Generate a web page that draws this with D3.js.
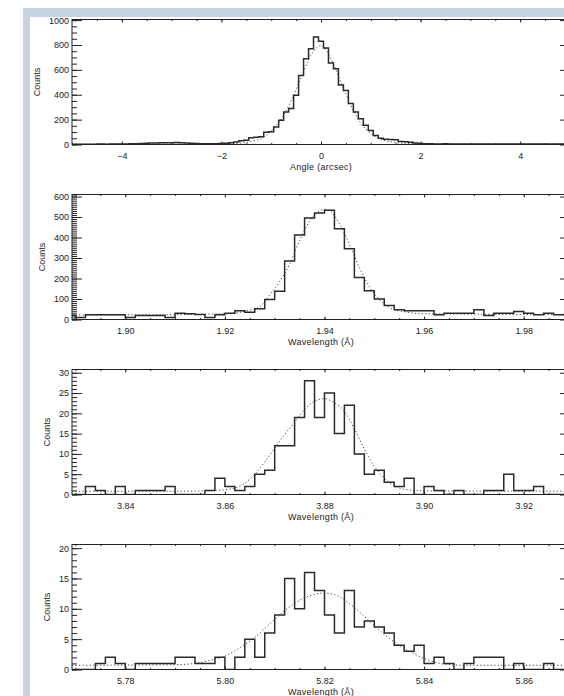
<!DOCTYPE html>
<html>
<head>
<meta charset="utf-8">
<script src="https://d3js.org/d3.v7.min.js"></script>
<style>
    body { margin: 0; background: #fff; }
    svg text { font-family: "Liberation Sans", Arial, sans-serif; fill: #222; }
</style>
</head>
<body>
<div id="chart"></div>
<script>
/* panel 1: angle histogram, bins of 0.1 arcsec centred on -5.0 ... 5.0 */
const angle_first = -5.0, angle_step = 0.1;
const angle_counts = [
    2, 2, 3, 3, 2, 3, 4, 3, 4, 5, 4, 5, 6, 6, 8,
    10, 12, 13, 15, 14, 15, 16, 14, 12, 10,
    8, 7, 6, 6, 7, 8, 10, 14,
    20, 30, 35, 55, 58, 62, 98, 102,
    140, 195, 262, 290, 395, 555, 690, 770, 865, 830,
    775, 655, 610, 478, 435, 330, 262, 207, 155, 113,
    73, 51, 42, 40, 38, 25, 22, 18, 12, 8,
    6, 6, 5, 5, 6, 5, 5, 4, 5, 5, 4, 4, 5, 5, 4, 4, 5, 4, 4, 5, 4, 4, 4, 5, 4, 4, 4, 5, 4, 4
];
const angle_fit_x = [-5, -3, -2, -1.6, -1.4, -1.2, -1.0, -0.8, -0.6, -0.4, -0.2, 0.0, 0.2, 0.4, 0.6, 0.8, 1.0, 1.2, 1.4, 1.6, 2.0, 3, 5];
const angle_fit_y = [3, 4, 6, 12, 25, 48, 110, 205, 350, 540, 720, 795, 690, 502, 315, 170, 90, 42, 22, 12, 6, 4, 3];
const angle_ticks = [-4, -2, 0, 2, 4];
const angle_count_ticks = [0, 200, 400, 600, 800, 1000];

/* panel 2: line near 1.94 A, bins of 0.002 A centred on 1.889 ... 1.989 */
const wl1_first = 1.889, wl1_step = 0.002;
const wl1_counts = [
    20, 10, 23, 23, 23, 23, 10, 20, 20, 20,
    10, 30, 28, 25, 10, 23, 31, 43, 35, 52,
    97, 138, 285, 412, 495, 520, 533, 443, 345, 205,
    140, 100, 68, 48, 43, 43, 43, 23, 31, 31,
    31, 48, 20, 31, 31, 39, 31, 23, 31, 23, 25
];
const wl1_fit_x = [1.8893, 1.910, 1.920, 1.924, 1.927, 1.929, 1.931, 1.933, 1.935, 1.937, 1.939, 1.940, 1.941, 1.943, 1.945, 1.947, 1.949, 1.951, 1.953, 1.956, 1.960, 1.9893];
const wl1_fit_y = [22, 24, 28, 40, 62, 120, 185, 270, 385, 480, 530, 538, 532, 468, 368, 255, 160, 98, 58, 38, 28, 24];
const wl1_ticks = [1.90, 1.92, 1.94, 1.96, 1.98];
const wl1_count_ticks = [0, 100, 200, 300, 400, 500, 600];

/* panel 3: line near 3.88 A */
const wl2_first = 3.829, wl2_step = 0.002;
const wl2_counts = [
    0, 0, 2, 1, 0, 2, 0, 1, 1, 1,
    2, 0, 0, 0, 1, 4, 2, 1, 2, 5,
    6, 12, 12, 19, 28, 19, 25, 15, 22, 10,
    5, 6, 3, 2, 4, 0, 2, 1, 0, 1,
    0, 0, 1, 1, 5, 1, 1, 2, 0, 0, 0
];
const wl2_fit_x = [3.8293, 3.850, 3.858, 3.862, 3.864, 3.866, 3.868, 3.870, 3.872, 3.874, 3.876, 3.878, 3.880, 3.882, 3.884, 3.886, 3.888, 3.890, 3.892, 3.894, 3.896, 3.900, 3.9293];
const wl2_fit_y = [0.8, 0.8, 1.0, 1.6, 2.8, 5.0, 8.0, 11.4, 14.8, 17.8, 21.0, 23.0, 23.6, 22.6, 20.5, 16.2, 11.2, 7.0, 4.0, 2.2, 1.3, 0.9, 0.8];
const wl2_ticks = [3.84, 3.86, 3.88, 3.90, 3.92];
const wl2_count_ticks = [0, 5, 10, 15, 20, 25, 30];

/* panel 4: line near 5.82 A */
const wl3_first = 5.769, wl3_step = 0.002;
const wl3_counts = [
    0, 0, 0, 1, 2, 1, 0, 1, 1, 1,
    1, 2, 2, 1, 1, 2, 0, 2, 5, 2,
    6, 9, 15, 10, 16, 13, 9, 6, 13, 7,
    8, 7, 6, 4, 3, 4, 1, 2, 1, 0,
    1, 2, 2, 2, 0, 1, 0, 0, 1, 0, 0
];
const wl3_fit_x = [5.7693, 5.790, 5.794, 5.797, 5.800, 5.803, 5.806, 5.809, 5.812, 5.815, 5.818, 5.820, 5.823, 5.826, 5.829, 5.832, 5.835, 5.838, 5.841, 5.844, 5.848, 5.8693];
const wl3_fit_y = [0.7, 0.8, 1.0, 1.5, 2.2, 3.6, 5.3, 7.5, 9.7, 11.4, 12.4, 12.6, 12.0, 10.2, 8.0, 5.8, 4.0, 2.6, 1.5, 0.9, 0.7, 0.7];
const wl3_ticks = [5.78, 5.80, 5.82, 5.84, 5.86];
const wl3_count_ticks = [0, 5, 10, 15, 20];

const panels = [
    { id: 1, first: angle_first, step: angle_step, counts: angle_counts, fitX: angle_fit_x, fitY: angle_fit_y,
      xdomain: [-5, 5], ydomain: [0, 1005], xTicks: angle_ticks, xMinor: 0.5, yTicks: angle_count_ticks, yMinor: 50,
      xFormat: d3.format("d"), xTitle: "Angle (arcsec)" },
    { id: 2, first: wl1_first, step: wl1_step, counts: wl1_counts, fitX: wl1_fit_x, fitY: wl1_fit_y,
      xdomain: [1.8893, 1.9893], ydomain: [0, 610], xTicks: wl1_ticks, xMinor: 0.005, yTicks: wl1_count_ticks, yMinor: 10,
      xFormat: d3.format(".2f"), xTitle: "Wavelength (Å)" },
    { id: 3, first: wl2_first, step: wl2_step, counts: wl2_counts, fitX: wl2_fit_x, fitY: wl2_fit_y,
      xdomain: [3.8293, 3.9293], ydomain: [0, 30.8], xTicks: wl2_ticks, xMinor: 0.005, yTicks: wl2_count_ticks, yMinor: 1,
      xFormat: d3.format(".2f"), xTitle: "Wavelength (Å)" },
    { id: 4, first: wl3_first, step: wl3_step, counts: wl3_counts, fitX: wl3_fit_x, fitY: wl3_fit_y,
      xdomain: [5.7693, 5.8693], ydomain: [0, 20.6], xTicks: wl3_ticks, xMinor: 0.005, yTicks: wl3_count_ticks, yMinor: 1,
      xFormat: d3.format(".2f"), xTitle: "Wavelength (Å)" }
];

/* layout */
const plot_left = 72, plot_right = 570;
const first_top = 19.5, panel_gap = 175, panel_h = 125;
const ink = "#222";

const svg = d3.select("#chart")
    .append("svg")
    .attr("width", 564)
    .attr("height", 696);

/* light blue window frame */
svg.append("rect").attr("x", 23).attr("y", 8).attr("width", 600).attr("height", 700).attr("fill", "#c6d3e3");
svg.append("rect").attr("x", 30).attr("y", 17).attr("width", 600).attr("height", 700).attr("fill", "#fff");

function minorValues(domain, step) {
    const lo = Math.ceil(domain[0] / step - 1e-6), hi = Math.floor(domain[1] / step + 1e-6);
    return d3.range(lo, hi + 1).map(k => +(k * step).toFixed(6));
}

function styleAxis(a) {
    a.select(".domain").remove();
    a.attr("color", ink).attr("font-size", 9).attr("font-family", "Liberation Sans, Arial, sans-serif");
}

function drawPanel(p, top) {
    const bottom = top + panel_h;
    const x = d3.scaleLinear().domain(p.xdomain).range([plot_left, plot_right]);
    const y = d3.scaleLinear().domain(p.ydomain).range([bottom, top]);
    const g = svg.append("g");

    const clipId = "clip" + p.id;
    g.append("clipPath").attr("id", clipId)
        .append("rect")
        .attr("x", plot_left).attr("y", top)
        .attr("width", plot_right - plot_left).attr("height", panel_h);

    /* fitted profile, dotted */
    const fit = p.fitX.map((v, i) => ({ x: v, v: p.fitY[i] }));
    g.append("path")
        .datum(fit)
        .attr("clip-path", `url(#${clipId})`)
        .attr("fill", "none")
        .attr("stroke", "#444")
        .attr("stroke-width", 1)
        .attr("stroke-dasharray", "1.2,2.3")
        .attr("d", d3.line().x(d => x(d.x)).y(d => y(d.v)).curve(d3.curveMonotoneX));

    /* histogram as steps, one point per bin centre */
    const bins = p.counts.map((c, i) => ({ x: p.first + i * p.step, v: c }));
    g.append("path")
        .datum(bins)
        .attr("clip-path", `url(#${clipId})`)
        .attr("fill", "none")
        .attr("stroke", "#2a2a2a")
        .attr("stroke-width", 1.5)
        .attr("d", d3.line().x(d => x(d.x)).y(d => y(d.v)).curve(d3.curveStep));

    /* box */
    g.append("rect")
        .attr("x", plot_left).attr("y", top)
        .attr("width", plot_right - plot_left).attr("height", panel_h)
        .attr("fill", "none").attr("stroke", ink).attr("stroke-width", 1);

    const xMinor = minorValues(p.xdomain, p.xMinor);
    const yMinor = minorValues(p.ydomain, p.yMinor);

    /* x axes: short ticks, on bottom and top */
    g.append("g").attr("transform", `translate(0,${bottom})`)
        .call(d3.axisBottom(x).tickValues(xMinor).tickFormat("").tickSize(-1.5).tickSizeOuter(0))
        .call(styleAxis);
    g.append("g").attr("transform", `translate(0,${bottom})`)
        .call(d3.axisBottom(x).tickValues(p.xTicks).tickFormat(p.xFormat).tickSize(-3).tickSizeOuter(0).tickPadding(8))
        .call(styleAxis);
    g.append("g").attr("transform", `translate(0,${top})`)
        .call(d3.axisTop(x).tickValues(xMinor).tickFormat("").tickSize(-1.5).tickSizeOuter(0))
        .call(styleAxis);
    g.append("g").attr("transform", `translate(0,${top})`)
        .call(d3.axisTop(x).tickValues(p.xTicks).tickFormat("").tickSize(-3).tickSizeOuter(0))
        .call(styleAxis);

    /* y axes: long ticks, left and right */
    g.append("g").attr("transform", `translate(${plot_left},0)`)
        .call(d3.axisLeft(y).tickValues(yMinor).tickFormat("").tickSize(-5).tickSizeOuter(0))
        .call(styleAxis);
    const yAxis = g.append("g").attr("transform", `translate(${plot_left},0)`)
        .call(d3.axisLeft(y).tickValues(p.yTicks).tickFormat(d3.format("d")).tickSize(-10).tickSizeOuter(0).tickPadding(3))
        .call(styleAxis);
    g.append("g").attr("transform", `translate(${plot_right},0)`)
        .call(d3.axisRight(y).tickValues(yMinor).tickFormat("").tickSize(-5).tickSizeOuter(0))
        .call(styleAxis);
    g.append("g").attr("transform", `translate(${plot_right},0)`)
        .call(d3.axisRight(y).tickValues(p.yTicks).tickFormat("").tickSize(-10).tickSizeOuter(0))
        .call(styleAxis);

    /* titles */
    let labelW = 0;
    yAxis.selectAll("text").each(function() { labelW = Math.max(labelW, this.getComputedTextLength()); });
    const cx = plot_left - 3 - labelW - 12;
    g.append("text")
        .attr("transform", `translate(${cx},${(top + bottom) / 2}) rotate(-90)`)
        .attr("text-anchor", "middle")
        .attr("dy", "0.35em")
        .attr("font-size", 9)
        .text("Counts");

    g.append("text")
        .attr("x", (plot_left + plot_right) / 2)
        .attr("y", bottom + 25)
        .attr("text-anchor", "middle")
        .attr("font-size", 9)
        .attr("letter-spacing", "0.3px")
        .text(p.xTitle);
}

panels.forEach((p, k) => drawPanel(p, first_top + k * panel_gap));
</script>
</body>
</html>
